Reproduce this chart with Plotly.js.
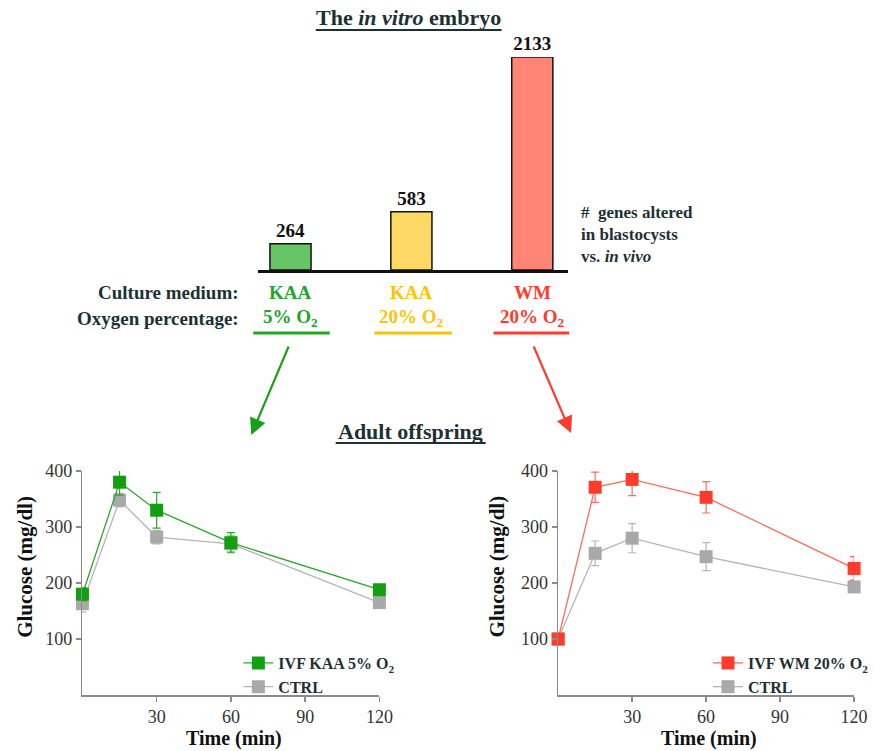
<!DOCTYPE html>
<html>
<head>
<meta charset="utf-8">
<script src="https://cdn.plot.ly/plotly-3.0.1.min.js"></script>
<style>body{margin:0;padding:0;background:#fff}#chart{width:874px;height:751px}</style>
</head>
<body>
<div id="chart"></div>
<script>
// ---- data ----
const conditions = ["KAA 5% O2", "KAA 20% O2", "WM 20% O2"];
const genesAltered = [264, 583, 2133];
const mediumLabels = ["KAA", "KAA", "WM"];
const oxygenLabels = ["5% O<sub>2</sub>", "20% O<sub>2</sub>", "20% O<sub>2</sub>"];

const time = [0, 15, 30, 60, 120];
const kaa5 = [180, 380, 330, 272, 188];
const kaa5Err = [12, 23, 32, 18, 8];
const ctrlLeft = [163, 348, 282, 270, 165];
const ctrlLeftErr = [15, 12, 12, 14, 8];
const wm20 = [100, 371, 385, 353, 226];
const wm20Err = [6, 27, 29, 28, 21];
const ctrlRight = [100, 253, 280, 247, 193];
const ctrlRightErr = [6, 22, 26, 25, 8];

const xTicks = [30, 60, 90, 120];
const yTicks = [100, 200, 300, 400];

// ---- styling ----
const W = 874, H = 751;
const X = p => p / W;
const Y = p => 1 - p / H;
const FONT = "Liberation Serif";
const DARK = "#1d3034";
const YELLOW = "#fdc20c", RED = "#ff3b2b", GRAY = "#a9a9a9";
const barColors = ["#67c567", "#ffd966", "#ff8577"];
const labelColors = ["#22a52a", YELLOW, RED];
const underlineColors = ["#1fa81f", "#ffc20a", "#ff3b2b"];

function lineTrace(y, err, color, lineColor, name, xa, ya, leg) {
  return {
    type: "scatter", mode: "lines+markers", x: time, y: y, name: name,
    xaxis: xa, yaxis: ya, legend: leg, cliponaxis: false,
    line: {color: lineColor, width: 1.3},
    marker: {symbol: "square", size: 13, color: color},
    error_y: {type: "data", array: err, visible: true, color: lineColor, thickness: 1.2, width: 4}
  };
}

const traces = [
  {
    type: "bar", x: conditions, y: genesAltered, xaxis: "x3", yaxis: "y3",
    width: 0.34, showlegend: false, cliponaxis: false,
    marker: {color: barColors, line: {color: "#111", width: 1.5}},
    text: genesAltered.map(String), textposition: "outside",
    textfont: {family: FONT, size: 19, color: "#111", weight: "bold"}
  },
  lineTrace(ctrlLeft, ctrlLeftErr, GRAY, "#b5b5b5", "CTRL", "x", "y", "legend"),
  lineTrace(kaa5, kaa5Err, "#12a012", "#2ca52c", "IVF KAA 5% O<sub>2</sub>", "x", "y", "legend"),
  lineTrace(ctrlRight, ctrlRightErr, GRAY, "#b5b5b5", "CTRL", "x2", "y2", "legend2"),
  lineTrace(wm20, wm20Err, "#ff3b2b", "#ff6b5c", "IVF WM 20% O<sub>2</sub>", "x2", "y2", "legend2")
];

const lineAxisX = {
  range: [0, 120], tickvals: xTicks, ticks: "outside", ticklen: 5, tickwidth: 1.3,
  tickcolor: "#8a8a8a", showline: true, linecolor: "#8a8a8a", linewidth: 1.5,
  showgrid: false, zeroline: false, tickfont: {family: FONT, size: 18, color: "#333"}
};
const lineAxisY = {
  range: [0, 400], tickvals: yTicks, ticks: "outside", ticklen: 5, tickwidth: 1.3,
  tickcolor: "#8a8a8a", showline: true, linecolor: "#8a8a8a", linewidth: 1.5,
  showgrid: false, zeroline: false, tickfont: {family: FONT, size: 18, color: "#333"}
};

const ann = [];
function txt(text, px, py, size, color, xanchor, extra) {
  ann.push(Object.assign({
    text: text, x: X(px), y: Y(py), xref: "paper", yref: "paper",
    xanchor: xanchor || "center", yanchor: "middle", showarrow: false,
    font: {family: FONT, size: size, color: color, weight: "bold"}
  }, extra || {}));
}

txt("The <i>in vitro</i> embryo", 411, 18, 22, DARK);
txt("Adult offspring", 413, 431, 22, DARK);
txt("Culture medium:", 243, 292, 19, DARK, "right");
txt("Oxygen percentage:", 243, 318, 19, DARK, "right");
const centers = [293, 414, 536];
for (let i = 0; i < 3; i++) {
  txt(mediumLabels[i], centers[i], 292, 19, labelColors[i]);
  txt(oxygenLabels[i], centers[i], 318, 19, labelColors[i]);
}
txt("#  genes altered", 583, 212, 17, DARK, "left");
txt("in blastocysts", 583, 234, 17, DARK, "left");
txt("vs. <i>in vivo</i>", 583, 256, 17, DARK, "left");

txt("Glucose (mg/dl)", 25, 567, 21, "#111", "center", {textangle: -90});
txt("Glucose (mg/dl)", 500, 567, 21, "#111", "center", {textangle: -90});
txt("Time (min)", 236, 738, 20, "#111");
txt("Time (min)", 714, 738, 20, "#111");

// arrows
ann.push({x: X(253), y: Y(435), ax: 291 - 253, ay: 345 - 435, xref: "paper", yref: "paper",
  text: "", showarrow: true, arrowhead: 2, arrowsize: 1.5, arrowwidth: 2.2, arrowcolor: "#19a019"});
ann.push({x: X(575), y: Y(433), ax: 537 - 575, ay: 345 - 433, xref: "paper", yref: "paper",
  text: "", showarrow: true, arrowhead: 2, arrowsize: 1.5, arrowwidth: 2.2, arrowcolor: "#ff3b2b"});

const shapes = [];
function hline(x0, x1, py, color, w) {
  shapes.push({type: "line", xref: "paper", yref: "paper", x0: X(x0), x1: X(x1), y0: Y(py), y1: Y(py),
    line: {color: color, width: w}});
}
hline(318, 505, 30, DARK, 2);
hline(338, 489, 443, DARK, 2);
hline(255, 332, 333, underlineColors[0], 3);
hline(377, 455, 333, underlineColors[1], 3);
hline(497, 573, 333, underlineColors[2], 3);

const legendBase = {
  bgcolor: "rgba(0,0,0,0)", traceorder: "reversed", yanchor: "top", xanchor: "left",
  font: {family: FONT, size: 16, color: DARK, weight: "bold"}, itemwidth: 30, tracegroupgap: 0
};

const layout = {
  width: W, height: H, margin: {l: 0, r: 0, t: 0, b: 0},
  paper_bgcolor: "#fff", plot_bgcolor: "rgba(0,0,0,0)",
  showlegend: true,
  legend: Object.assign({}, legendBase, {x: X(240), y: Y(646)}),
  legend2: Object.assign({}, legendBase, {x: X(713), y: Y(646)}),
  xaxis: Object.assign({}, lineAxisX, {domain: [X(83), X(382)], anchor: "y"}),
  yaxis: Object.assign({}, lineAxisY, {domain: [Y(695), Y(471)], anchor: "x"}),
  xaxis2: Object.assign({}, lineAxisX, {domain: [X(562), X(860)], anchor: "y2"}),
  yaxis2: Object.assign({}, lineAxisY, {domain: [Y(695), Y(471)], anchor: "x2"}),
  xaxis3: {domain: [X(260), X(572)], anchor: "y3", range: [-0.267, 2.296], showline: true,
    linecolor: "#111", linewidth: 2.5, showticklabels: false, ticks: "", showgrid: false, zeroline: false},
  yaxis3: {domain: [Y(270), Y(57)], anchor: "x3", range: [0, 2133], visible: false, showgrid: false, zeroline: false},
  annotations: ann, shapes: shapes
};

Plotly.newPlot("chart", traces, layout, {staticPlot: true});
</script>
</body>
</html>
